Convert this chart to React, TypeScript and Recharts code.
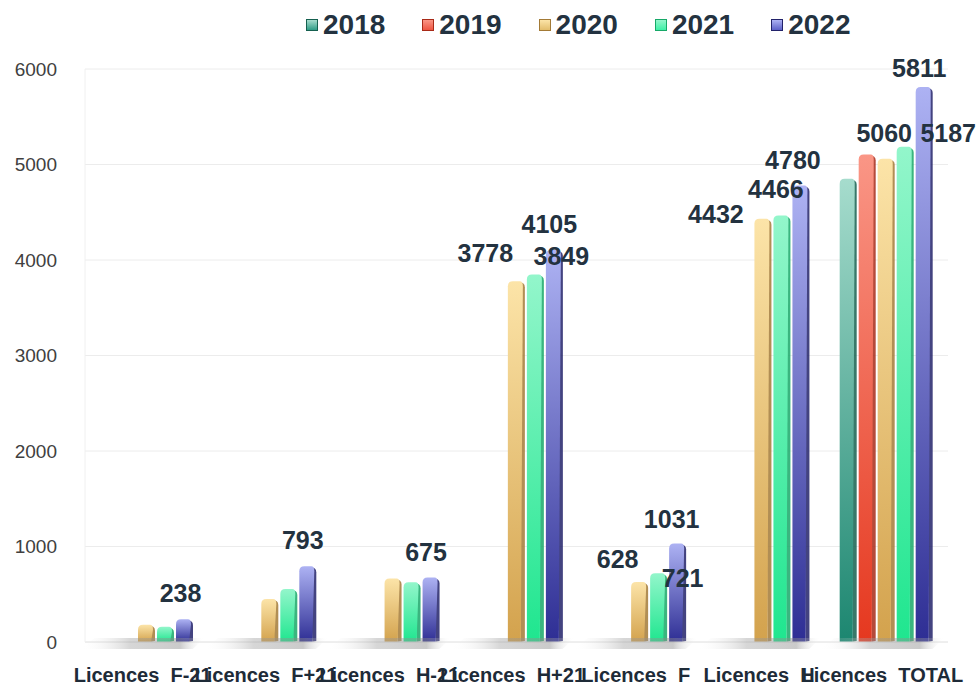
import React from "react";
import { BarChart, Bar, XAxis, YAxis, CartesianGrid, LabelList } from "recharts";

// ─── Data ─────────────────────────────────────────────────────────────────────
const categories = [
  "Licences\u00a0\u00a0F-21",
  "Licences\u00a0\u00a0F+21",
  "Licences\u00a0\u00a0H-21",
  "Licences\u00a0\u00a0H+21",
  "Licences\u00a0\u00a0F",
  "Licences\u00a0\u00a0H",
  "Licences\u00a0\u00a0TOTAL",
];
const years = ["2018", "2019", "2020", "2021", "2022"];
const v2018 = [null, null, null, null, null, null, 4850];
const v2019 = [null, null, null, null, null, null, 5104];
const v2020 = [180, 450, 665, 3778, 628, 4432, 5060];
const v2021 = [160, 555, 625, 3849, 721, 4466, 5187];
const v2022 = [238, 793, 675, 4105, 1031, 4780, 5811];
const yTicks = [0, 1000, 2000, 3000, 4000, 5000, 6000];

const seriesValues = [v2018, v2019, v2020, v2021, v2022];

const data = categories.map((name, i) => {
  const row: Record<string, any> = { name };
  years.forEach((y, s) => (row[y] = seriesValues[s][i]));
  return row;
});

// ─── Styles ───────────────────────────────────────────────────────────────────
const COLORS: Record<string, { top: string; bottom: string; side: string; swatch: string }> = {
  "2018": { top: "#a6dccd", bottom: "#1c8670", side: "#15604f", swatch: "#2e9c86" },
  "2019": { top: "#fa9686", bottom: "#e5381f", side: "#a82a18", swatch: "#ee5542" },
  "2020": { top: "#fce4a8", bottom: "#d3a24d", side: "#a37a36", swatch: "#e3bd6c" },
  "2021": { top: "#93f6cb", bottom: "#1fe68f", side: "#17a868", swatch: "#3ef0a6" },
  "2022": { top: "#adb2f3", bottom: "#2e2e94", side: "#22226a", swatch: "#5c60c8" },
};

// which labels are shown, and where (offset from bar top centre)
const LABEL_OFFSETS: Record<string, [number, number]> = {
  "2019-6": [-24, -32],
  "2020-3": [-31, -19],
  "2020-4": [-22, -14],
  "2020-5": [-47, 4],
  "2020-6": [-2, -17],
  "2021-3": [26, -9],
  "2021-4": [24, 14],
  "2021-5": [-6, -17],
  "2021-6": [43, -5],
  "2022-0": [-4, -17],
  "2022-1": [-5, -17],
  "2022-2": [-5, -17],
  "2022-3": [-5, -17],
  "2022-4": [-6, -16],
  "2022-5": [-8, -17],
  "2022-6": [-5, -10],
};

const TEXT_DARK = "#233240";
const FONT = "'Liberation Sans', Arial, sans-serif";

function Bar3D(props: any) {
  const { x, y, width, height, year } = props;
  if (!height || height <= 0) return null;
  const c = COLORS[year];
  const side = 4;
  const r = 5;
  const fw = width - side;
  const front = `M${x},${y + height} L${x},${y + r} Q${x},${y} ${x + r},${y} L${x + fw - 1},${y} Q${x + fw + 2},${y} ${x + fw + 2},${y + r} L${x + fw},${y + height} Z`;
  return (
    <g>
      <path
        d={`M${x + fw - 2},${y + 1} Q${x + width},${y + 1} ${x + width},${y + r + 1} L${x + width},${y + height - 1} L${x + fw},${y + height} Z`}
        fill={c.side}
        opacity={0.85}
      />
      <path d={front} fill={`url(#grad${year})`} />
    </g>
  );
}

function makeLabel(year: string) {
  return (props: any) => {
    const { x, y, width, value, index } = props;
    const off = LABEL_OFFSETS[`${year}-${index}`];
    if (!off || value == null) return null;
    return (
      <text
        x={x + width / 2 + off[0]}
        y={y + off[1]}
        textAnchor="middle"
        fontFamily={FONT}
        fontWeight="bold"
        fontSize={25}
        fill={TEXT_DARK}
      >
        {value}
      </text>
    );
  };
}

// category tick + the soft grey floor shadow under each group
function XTick({ x, y, payload }: any) {
  return (
    <g>
      <path
        d={`M${x - 66},${y + 7} L${x - 52},${y - 4} L${x + 58},${y - 4} L${x + 46},${y + 7} Z`}
        fill="url(#floorShadow)"
      />
      <text
        x={x - 4}
        y={y + 40}
        textAnchor="middle"
        fontFamily={FONT}
        fontWeight="bold"
        fontSize={20}
        fill="#1e2b38"
      >
        {payload.value}
      </text>
    </g>
  );
}

function Legend() {
  return (
    <div
      style={{
        position: "absolute",
        top: 9,
        left: 306,
        display: "flex",
        gap: 37,
        fontFamily: FONT,
        fontWeight: "bold",
        fontSize: 28,
        color: TEXT_DARK,
      }}
    >
      {years.map((yr) => (
        <div key={yr} style={{ display: "flex", alignItems: "center", gap: 5 }}>
          <div
            style={{
              width: 10,
              height: 10,
              background: `linear-gradient(${COLORS[yr].top}, ${COLORS[yr].swatch})`,
              border: `1px solid ${COLORS[yr].side}`,
            }}
          />
          <span>{yr}</span>
        </div>
      ))}
    </div>
  );
}

export default function App() {
  return (
    <div style={{ position: "absolute", left: 0, top: 0, width: 980, height: 687, background: "#fff" }}>
      <Legend />
      <BarChart
        width={980}
        height={687}
        data={data}
        margin={{ top: 69, right: 32, left: 15, bottom: 0 }}
        barSize={17}
        barGap={2}
      >
        <defs>
          {years.map((yr) => (
            <linearGradient key={yr} id={`grad${yr}`} x1="0" y1="0" x2="0" y2="1">
              <stop offset="0%" stopColor={COLORS[yr].top} />
              <stop offset="100%" stopColor={COLORS[yr].bottom} />
            </linearGradient>
          ))}
          <linearGradient id="floorShadow" x1="0" y1="0" x2="1" y2="0">
            <stop offset="0%" stopColor="#ffffff" stopOpacity={0} />
            <stop offset="40%" stopColor="#9a9a9a" stopOpacity={0.4} />
            <stop offset="80%" stopColor="#8a8a8a" stopOpacity={0.45} />
            <stop offset="100%" stopColor="#ffffff" stopOpacity={0} />
          </linearGradient>
        </defs>
        <CartesianGrid vertical={false} stroke="#ececec" />
        <XAxis
          dataKey="name"
          height={45}
          interval={0}
          tickLine={false}
          axisLine={{ stroke: "#e8e8e8" }}
          tickSize={0}
          tickMargin={0}
          tick={<XTick />}
        />
        <YAxis
          width={70}
          domain={[0, 6000]}
          ticks={yTicks}
          axisLine={{ stroke: "#f0f0f0" }}
          tickLine={false}
          tickSize={0}
          tickMargin={28}
          tick={{ fontFamily: FONT, fontSize: 19, fill: "#404040" }}
        />
        {years.map((yr) => (
          <Bar
            key={yr}
            dataKey={yr}
            isAnimationActive={false}
            shape={(p: any) => <Bar3D {...p} year={yr} />}
          >
            <LabelList dataKey={yr} content={makeLabel(yr)} />
          </Bar>
        ))}
      </BarChart>
    </div>
  );
}
